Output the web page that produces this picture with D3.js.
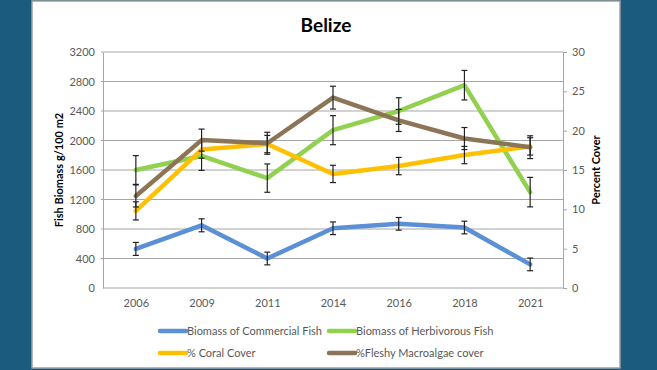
<!DOCTYPE html>
<html>
<head>
<meta charset="utf-8">
<script src="https://cdn.jsdelivr.net/npm/d3@7"></script>
<style>
  html, body { margin: 0; padding: 0; background: #1b5c7e; }
  svg { display: block; }
  text { font-family: Lato, "Open Sans", sans-serif; }
</style>
</head>
<body>
<svg id="chart" width="657" height="370"></svg>
<script>
// ---- data ----
const years = ["2006", "2009", "2011", "2014", "2016", "2018", "2021"];
const commercialFish = [530, 850, 400, 810, 870, 820, 320];
const commercialErr = [88, 88, 86, 86, 86, 86, 86];
const herbivorousFish = [1600, 1790, 1490, 2140, 2400, 2750, 1300];
const herbivorousErr = [195, 195, 192, 197, 180, 200, 200];
const coralCover = [9.8, 17.6, 18.3, 14.5, 15.5, 16.9, 18.0];
const coralErr = [1.15, 1.1, 1.1, 1.1, 1.1, 1.1, 1.1];
const macroalgaeCover = [11.7, 18.8, 18.4, 24.2, 21.3, 19.0, 17.9];
const macroalgaeErr = [1.4, 1.4, 1.4, 1.45, 1.4, 1.4, 1.45];
const leftTicks = [0, 400, 800, 1200, 1600, 2000, 2400, 2800, 3200];
const rightTicks = [0, 5, 10, 15, 20, 25, 30];
const seriesNames = ["Biomass of Commercial Fish", "Biomass of Herbivorous Fish", "% Coral Cover", "%Fleshy Macroalgae cover"];

const colors = ["#5b8fd6", "#92d050", "#ffc000", "#8c7557"];

const svg = d3.select("#chart");

// panel
svg.append("rect").attr("x", 32).attr("y", 1).attr("width", 588).attr("height", 367)
  .attr("fill", "#ffffff").attr("stroke", "#a0a0a0").attr("stroke-width", 1.5);

const plot = { left: 103, right: 563, top: 52, bottom: 288 };

const x = d3.scalePoint().domain(years).range([plot.left, plot.right]).padding(0.5);
const yL = d3.scaleLinear().domain([0, 3200]).range([plot.bottom, plot.top]);
const yR = d3.scaleLinear().domain([0, 30]).range([plot.bottom, plot.top]);

// gridlines
svg.append("g").selectAll("line").data(leftTicks.filter(d => d > 0)).join("line")
  .attr("x1", plot.left - 2).attr("x2", plot.right)
  .attr("y1", d => yL(d)).attr("y2", d => yL(d))
  .attr("stroke", "#a6a6a6").attr("stroke-width", 1);

// left axis
const axL = svg.append("g").attr("transform", `translate(${plot.left},0)`)
  .call(d3.axisLeft(yL).tickValues(leftTicks).tickSize(0).tickPadding(8).tickFormat(d3.format("d")));
axL.select(".domain").attr("stroke", "#a6a6a6");
axL.selectAll("text").attr("fill", "#595959").style("font-size", "11px");

// right axis
const axR = svg.append("g").attr("transform", `translate(${plot.right},0)`)
  .call(d3.axisRight(yR).tickValues(rightTicks).tickSize(4).tickSizeOuter(0).tickPadding(5));
axR.select(".domain").attr("stroke", "#a6a6a6");
axR.selectAll("line").attr("stroke", "#a6a6a6");
axR.selectAll("text").attr("fill", "#595959").style("font-size", "11px");

// bottom axis
const axB = svg.append("g").attr("transform", `translate(0,${plot.bottom})`)
  .call(d3.axisBottom(x).tickSize(0).tickPadding(11));
axB.select(".domain").attr("stroke", "#a6a6a6").attr("d", `M${plot.left},0H${plot.right}`);
axB.selectAll("text").attr("fill", "#595959").style("font-size", "11px");

// title
svg.append("text").attr("x", 326).attr("y", 32).attr("text-anchor", "middle")
  .style("font-size", "19px").style("font-weight", "bold").attr("fill", "#000").text("Belize");

// axis titles
svg.append("text").attr("transform", `translate(63,${(plot.top + plot.bottom) / 2}) rotate(-90)`)
  .attr("text-anchor", "middle").style("font-size", "11px").style("font-weight", "bold")
  .attr("fill", "#000").text("Fish Biomass g/100 m2");
svg.append("text").attr("transform", `translate(600,${(plot.top + plot.bottom) / 2}) rotate(-90)`)
  .attr("text-anchor", "middle").style("font-size", "11px").style("font-weight", "bold")
  .attr("fill", "#000").text("Percent Cover");

// series
const series = [
  { vals: commercialFish, err: commercialErr, y: yL },
  { vals: herbivorousFish, err: herbivorousErr, y: yL },
  { vals: coralCover, err: coralErr, y: yR },
  { vals: macroalgaeCover, err: macroalgaeErr, y: yR }
];

series.forEach((s, i) => {
  const pts = years.map((yr, j) => ({ yr, v: s.vals[j], e: s.err[j] }));
  svg.append("path").datum(pts)
    .attr("fill", "none").attr("stroke", colors[i]).attr("stroke-width", 4.5)
    .attr("stroke-linejoin", "round").attr("stroke-linecap", "round")
    .attr("d", d3.line().x(d => x(d.yr)).y(d => s.y(d.v)));
  const eb = svg.append("g");
  pts.forEach(d => {
    const cx = x(d.yr), y1 = s.y(d.v + d.e), y2 = s.y(d.v - d.e);
    eb.append("line").attr("x1", cx).attr("x2", cx).attr("y1", y1).attr("y2", y2)
      .attr("stroke", "#222").attr("stroke-width", 1.2);
    [y1, y2].forEach(yy => eb.append("line").attr("x1", cx - 3).attr("x2", cx + 3)
      .attr("y1", yy).attr("y2", yy).attr("stroke", "#222").attr("stroke-width", 1.2));
  });
});

// legend
const legendPos = [[160, 331], [329, 331], [160, 353], [329, 353]];
seriesNames.forEach((name, i) => {
  const [lx, ly] = legendPos[i];
  svg.append("line").attr("x1", lx).attr("x2", lx + 26).attr("y1", ly).attr("y2", ly)
    .attr("stroke", colors[i]).attr("stroke-width", 4.5).attr("stroke-linecap", "round");
  svg.append("text").attr("x", lx + 27).attr("y", ly + 4).style("font-size", "11px")
    .attr("fill", "#595959").text(name);
});
</script>
</body>
</html>
